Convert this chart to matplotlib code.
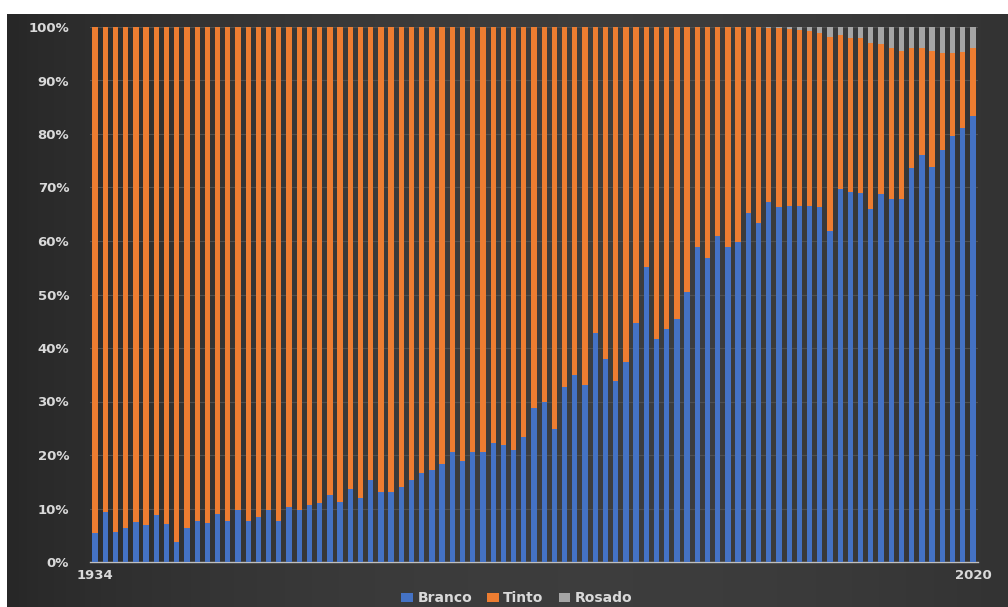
import numpy as np
import matplotlib.pyplot as plt
from matplotlib.patches import Patch

# --- DATA (share of each wine type, %) ---
years = list(range(1934, 2021))

branco = [5.4, 9.4, 5.6, 6.4, 7.5, 6.9, 8.7, 7.1, 3.7, 6.4,
          7.7, 7.2, 9.0, 7.7, 9.8, 7.7, 8.5, 9.8, 7.7, 10.2,
          9.8, 10.7, 11.0, 12.5, 11.3, 13.6, 11.9, 15.3, 13.0, 13.1,
          14.0, 15.3, 16.6, 17.2, 18.4, 20.6, 18.9, 20.6, 20.6, 22.2,
          21.9, 21.0, 23.4, 28.8, 30.0, 24.8, 32.8, 35.0, 33.1, 42.8,
          37.9, 33.9, 37.3, 44.7, 55.1, 41.7, 43.6, 45.5, 50.5, 58.8,
          56.9, 60.9, 58.9, 59.8, 65.3, 63.3, 67.3, 66.3, 66.6, 66.6,
          66.6, 66.3, 61.9, 69.8, 69.1, 68.9, 65.9, 68.7, 67.8, 67.8,
          73.6, 76.1, 73.9, 77.1, 79.7, 81.2, 83.3]

rosado = [0.0] * 66 + [0.2, 0.2, 0.4, 0.5, 0.7, 1.1, 1.9, 1.5, 2.0, 2.0,
                       3.0, 3.1, 3.9, 4.5, 3.9, 3.9, 4.5, 4.9, 4.9, 4.7,
                       4.0]

tinto = [100 - b - r for b, r in zip(branco, rosado)]

labels = ["Branco", "Tinto", "Rosado"]
colors = ["#4472C4", "#ED7D31", "#A5A5A5"]
txt_color = "#D9D9D9"

W, H = 1008, 607
fig = plt.figure(figsize=(W / 100, H / 100), dpi=100)
fig.patch.set_facecolor("white")

# dark background panel with a soft horizontal gradient
bg = fig.add_axes([7 / W, 0, 1 - 7 / W, 1 - 14 / H], zorder=0)
grad = np.linspace(0, 1, 256)
grad = np.sin(grad * np.pi * 0.85) ** 0.8
bg.imshow(grad[np.newaxis, :], aspect="auto", cmap=plt.matplotlib.colors.LinearSegmentedColormap.from_list(
    "bg", ["#272727", "#3d3d3d"]), extent=[0, 1, 0, 1])
bg.axis("off")

ax = fig.add_axes([90 / W, 1 - 562 / H, (978 - 90) / W, (562 - 27) / H], zorder=1)
ax.patch.set_alpha(0)

x = np.arange(len(years))
bottom = np.zeros(len(years))
for vals, col in zip([branco, tinto, rosado], colors):
    ax.bar(x, vals, width=0.52, bottom=bottom, color=col, zorder=3)
    bottom += np.array(vals)

ax.set_xlim(-0.5, len(years) - 0.5)
ax.set_ylim(0, 100)
ax.set_yticks(range(0, 101, 10))
ax.set_yticklabels([f"{v}%" for v in range(0, 101, 10)])
ax.set_xticks([0, len(years) - 1])
ax.set_xticklabels([str(years[0]), str(years[-1])])

ax.grid(axis="y", color="#4f4f4f", linewidth=0.8, zorder=0)
for s in ["top", "right", "left"]:
    ax.spines[s].set_visible(False)
ax.spines["bottom"].set_color("#BFBFBF")
ax.spines["bottom"].set_linewidth(1.0)
ax.tick_params(axis="both", length=0, colors=txt_color, labelsize=9.5)
ax.tick_params(axis="y", pad=15)
ax.tick_params(axis="x", pad=5)
for t in ax.get_xticklabels() + ax.get_yticklabels():
    t.set_fontweight("bold")

handles = [Patch(facecolor=c, label=l) for c, l in zip(colors, labels)]
leg = fig.legend(handles=handles, loc="center", bbox_to_anchor=(517 / W, 1 - 598 / H),
                 ncol=3, frameon=False, fontsize=10, handlelength=0.8, handleheight=0.6,
                 handletextpad=0.35, columnspacing=1.1)
for t in leg.get_texts():
    t.set_color(txt_color)
    t.set_fontweight("bold")

fig.savefig("out.png", dpi=100)
